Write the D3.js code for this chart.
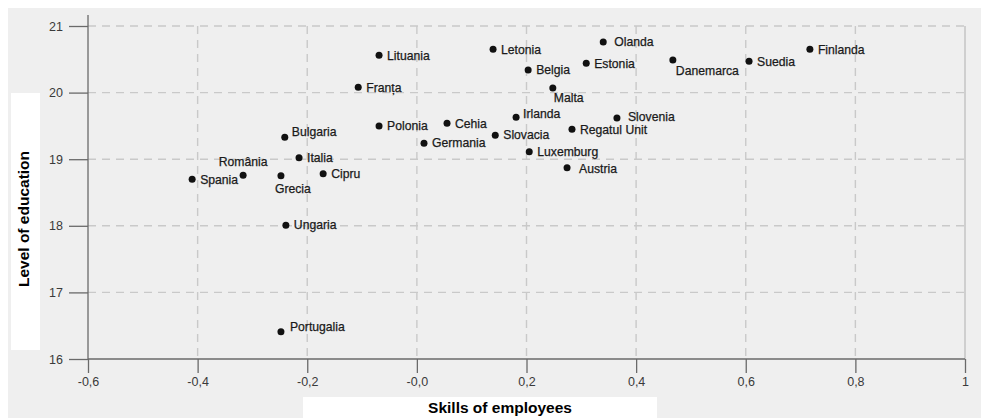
<!DOCTYPE html>
<html><head><meta charset="utf-8">
<script src="https://cdn.jsdelivr.net/npm/d3@7/dist/d3.min.js"></script>
<style>
html,body{margin:0;padding:0;background:#fff;}
svg{display:block;}
</style></head>
<body>
<script>
// ---- data ----
const countries = ["Finlanda","Suedia","Danemarca","Olanda","Estonia","Letonia","Lituania","Belgia","Franța","Malta","Irlanda","Slovenia","Regatul Unit","Polonia","Cehia","Slovacia","Germania","Luxemburg","Austria","Cipru","Italia","Bulgaria","Grecia","România","Spania","Ungaria","Portugalia"];
const skills = [0.717,0.606,0.467,0.340,0.309,0.139,-0.069,0.203,-0.107,0.248,0.181,0.365,0.283,-0.069,0.055,0.143,0.013,0.205,0.274,-0.171,-0.215,-0.241,-0.248,-0.317,-0.410,-0.239,-0.248];
const education = [20.65,20.47,20.49,20.76,20.44,20.65,20.56,20.34,20.08,20.07,19.63,19.62,19.45,19.50,19.54,19.36,19.24,19.11,18.87,18.78,19.02,19.33,18.75,18.76,18.70,18.01,16.41];
const xTicks = [-0.6,-0.4,-0.2,0,0.2,0.4,0.6,0.8,1];
const xTickLabels = ["-0,6","-0,4","-0,2","-0,0","0,2","0,4","0,6","0,8","1"];
const yTicks = [16,17,18,19,20,21];
const yTickLabels = ["16","17","18","19","20","21"];

// ---- label placement (style) ----
const place = {
  "Danemarca":{dx:3,dy:11,anchor:"start"},
  "Malta":{dx:1,dy:10,anchor:"start"},
  "Irlanda":{dx:7,dy:-4,anchor:"start"},
  "Grecia":{dx:-6,dy:13,anchor:"start"},
  "România":{dx:0,dy:-13,anchor:"middle"},
  "Portugalia":{dx:9,dy:-5,anchor:"start"},
  "Slovenia":{dx:11,dy:-1,anchor:"start"},
  "Austria":{dx:12,dy:1,anchor:"start"},
  "Olanda":{dx:11,dy:0,anchor:"start"},
  "Bulgaria":{dx:7,dy:-5,anchor:"start"},
  "Spania":{dx:8,dy:1,anchor:"start"}
};

const W=981,H=418;
const svg=d3.select("body").append("svg").attr("width",W).attr("height",H);
svg.append("rect").attr("x",8).attr("y",8).attr("width",W-8).attr("height",H-8).attr("fill","#efefef");

const x=d3.scaleLinear().domain([-0.6,1]).range([88,965]);
const y=d3.scaleLinear().domain([16,21]).range([359,26]);

// grid
const grid=svg.append("g").attr("stroke","#c9c9c9").attr("stroke-width",1.4).attr("stroke-dasharray","8,6");
grid.selectAll("line.h").data(yTicks.filter(d=>d>16)).join("line")
  .attr("x1",88).attr("x2",965).attr("y1",d=>y(d)).attr("y2",d=>y(d));
grid.selectAll("line.v").data(xTicks.filter(d=>d>-0.6 && d<1)).join("line")
  .attr("y1",26).attr("y2",359).attr("x1",d=>x(d)).attr("x2",d=>x(d));
svg.append("line").attr("x1",x(1)).attr("x2",x(1)).attr("y1",26).attr("y2",359)
  .attr("stroke","#cfcfcf").attr("stroke-width",2);

// axes
const font="'Liberation Sans', Arial, sans-serif";
const yAxis=d3.axisLeft(y).tickValues(yTicks).tickFormat((d,i)=>yTickLabels[i]).tickSize(19).tickPadding(6);
const gy=svg.append("g").attr("transform","translate(88,0)").call(yAxis);
const xAxis=d3.axisBottom(x).tickValues(xTicks).tickFormat((d,i)=>xTickLabels[i]).tickSize(14).tickPadding(4);
const gx=svg.append("g").attr("transform","translate(0,359)").call(xAxis);
[gy,gx].forEach(g=>{
  g.select(".domain").remove();
  g.selectAll("line").attr("stroke","#6a6a6a").attr("stroke-width",1.3);
  g.selectAll("text").attr("fill","#3a3a3a").style("font-family",font).style("font-size","12.5px");
});
svg.append("line").attr("x1",88).attr("x2",88).attr("y1",15).attr("y2",359).attr("stroke","#6a6a6a").attr("stroke-width",1.3);
svg.append("line").attr("x1",88).attr("x2",965).attr("y1",359).attr("y2",359).attr("stroke","#6a6a6a").attr("stroke-width",1.3);

// points
const data=countries.map((c,i)=>({name:c,x:skills[i],y:education[i]}));
svg.append("g").selectAll("circle").data(data).join("circle")
  .attr("cx",d=>x(d.x)).attr("cy",d=>y(d.y)).attr("r",3.5).attr("fill","#111");
svg.append("g").selectAll("text").data(data).join("text")
  .attr("x",d=>x(d.x)+((place[d.name]||{}).dx ?? 8))
  .attr("y",d=>y(d.y)+((place[d.name]||{}).dy ?? 0))
  .attr("dy","0.35em")
  .attr("text-anchor",d=>(place[d.name]||{}).anchor||"start")
  .style("font-family",font).style("font-size","12.2px").attr("fill","#1a1a1a")
  .attr("stroke","#1a1a1a").attr("stroke-width",0.25)
  .text(d=>d.name);

// axis titles with white boxes
const titleFont="'Liberation Sans Narrow', 'Liberation Sans', Arial, sans-serif";
svg.append("rect").attr("x",303).attr("y",397).attr("width",354).attr("height",21).attr("fill","#fff");
svg.append("text").attr("x",500).attr("y",408).attr("dy","0.35em").attr("text-anchor","middle")
  .style("font-family",titleFont).style("font-weight","bold").style("font-size","15.5px")
  .attr("fill","#000").text("Skills of employees");
svg.append("rect").attr("x",11).attr("y",93).attr("width",29).attr("height",257).attr("fill","#fff");
svg.append("text").attr("transform","translate(24,219) rotate(-90)").attr("dy","0.35em").attr("text-anchor","middle")
  .style("font-family",titleFont).style("font-weight","bold").style("font-size","15.5px")
  .attr("fill","#000").text("Level of education");
</script>
</body></html>
